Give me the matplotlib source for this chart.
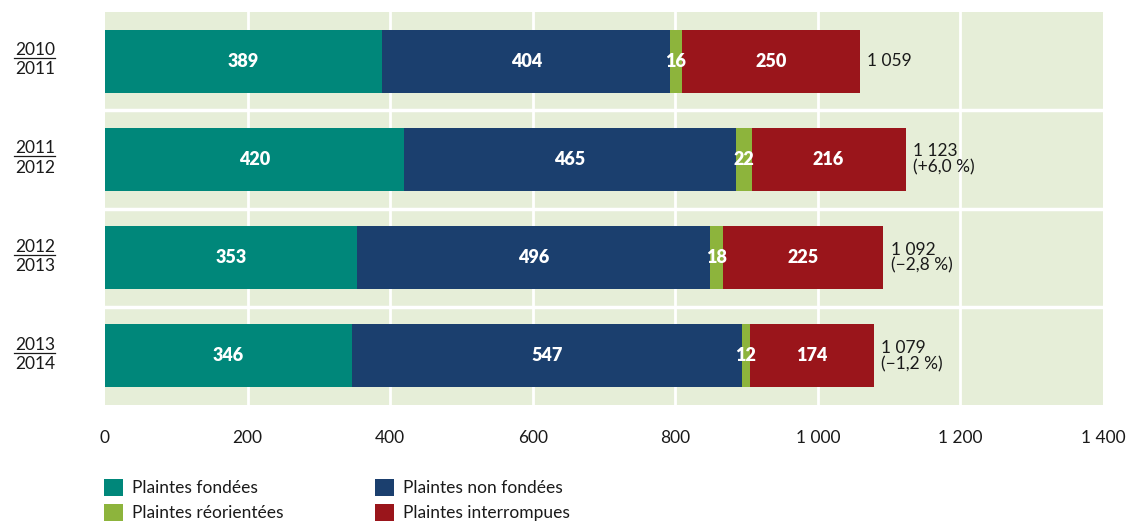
import matplotlib
matplotlib.use("Agg")
import matplotlib.pyplot as plt
import numpy as np
from matplotlib.patches import Patch

periods = [("2010", "2011"), ("2011", "2012"), ("2012", "2013"), ("2013", "2014")]
fondees = [389, 420, 353, 346]
non_fondees = [404, 465, 496, 547]
reorientees = [16, 22, 18, 12]
interrompues = [250, 216, 225, 174]
totals = ["1 059", "1 123", "1 092", "1 079"]
variations = ["", "(+6,0 %)", "(\u22122,8 %)", "(\u22121,2 %)"]
xticks = [0, 200, 400, 600, 800, 1000, 1200, 1400]
xticklabels = ["0", "200", "400", "600", "800", "1 000", "1 200", "1 400"]

series = [
    ("Plaintes fondées", fondees, "#00877a"),
    ("Plaintes non fondées", non_fondees, "#1b3f6e"),
    ("Plaintes réorientées", reorientees, "#8db43c"),
    ("Plaintes interrompues", interrompues, "#9a151b"),
]

plt.rcParams['font.family'] = ['Lato', 'DejaVu Sans']
TXT = "#1a1a1a"
FS = 12.5

fig = plt.figure(figsize=(11.28, 5.27), dpi=100)
ax = fig.add_axes([105/1128, 1-405/527, (1103-105)/1128, (405-12)/527])
ax.set_facecolor("#e6eed8")
for s in ax.spines.values():
    s.set_visible(False)

y = np.arange(len(periods))
left = np.zeros(len(periods))
for name, vals, col in series:
    vals = np.array(vals, dtype=float)
    ax.barh(y, vals, left=left, height=0.64, color=col, zorder=3)
    for yi, (l, v) in enumerate(zip(left, vals)):
        ax.text(l + v/2, yi, f"{int(v)}", ha="center", va="center", color="white",
                fontsize=13, fontweight="heavy", zorder=4)
    left = left + vals

for yi, (tot, var) in enumerate(zip(totals, variations)):
    txt = tot if not var else tot + "\n" + var
    ax.text(left[yi] + 10, yi, txt, ha="left", va="center", fontsize=FS,
            color=TXT, linespacing=1.0, zorder=4)

ax.set_xlim(0, 1400)
ax.set_ylim(3.5, -0.5)
for xv in xticks[1:-1]:
    ax.axvline(xv, color="white", lw=2, zorder=1)
for yv in [0.5, 1.5, 2.5]:
    ax.axhline(yv, color="white", lw=2.5, zorder=2)

ax.set_xticks(xticks)
ax.set_xticklabels(xticklabels, fontsize=FS, color=TXT)
ax.tick_params(axis="x", length=0, pad=18)
ax.set_yticks([])

for yi, (a, b) in enumerate(periods):
    ax.text(-98, yi - 0.06, a, ha="center", va="baseline", fontsize=FS,
            color=TXT, clip_on=False)
    ax.text(-98, yi + 0.135, b, ha="center", va="baseline", fontsize=FS,
            color=TXT, clip_on=False)
    ax.plot([-127, -70], [yi - 0.03, yi - 0.03], color=TXT, lw=0.9, clip_on=False)

handles = [Patch(facecolor=c, edgecolor="none") for _, _, c in series]
labels = [n for n, _, _ in series]
order = [0, 2, 1, 3]
leg = fig.legend([handles[i] for i in order], [labels[i] for i in order],
                 ncol=2, loc="upper left", bbox_to_anchor=(104/1128, 1-479/527),
                 frameon=False, fontsize=FS, handlelength=1.1, handleheight=1.1,
                 handletextpad=0.5, columnspacing=5.3, labelspacing=0.45,
                 borderaxespad=0, borderpad=0)
for t in leg.get_texts():
    t.set_color(TXT)

fig.savefig("out.png", dpi=100)
